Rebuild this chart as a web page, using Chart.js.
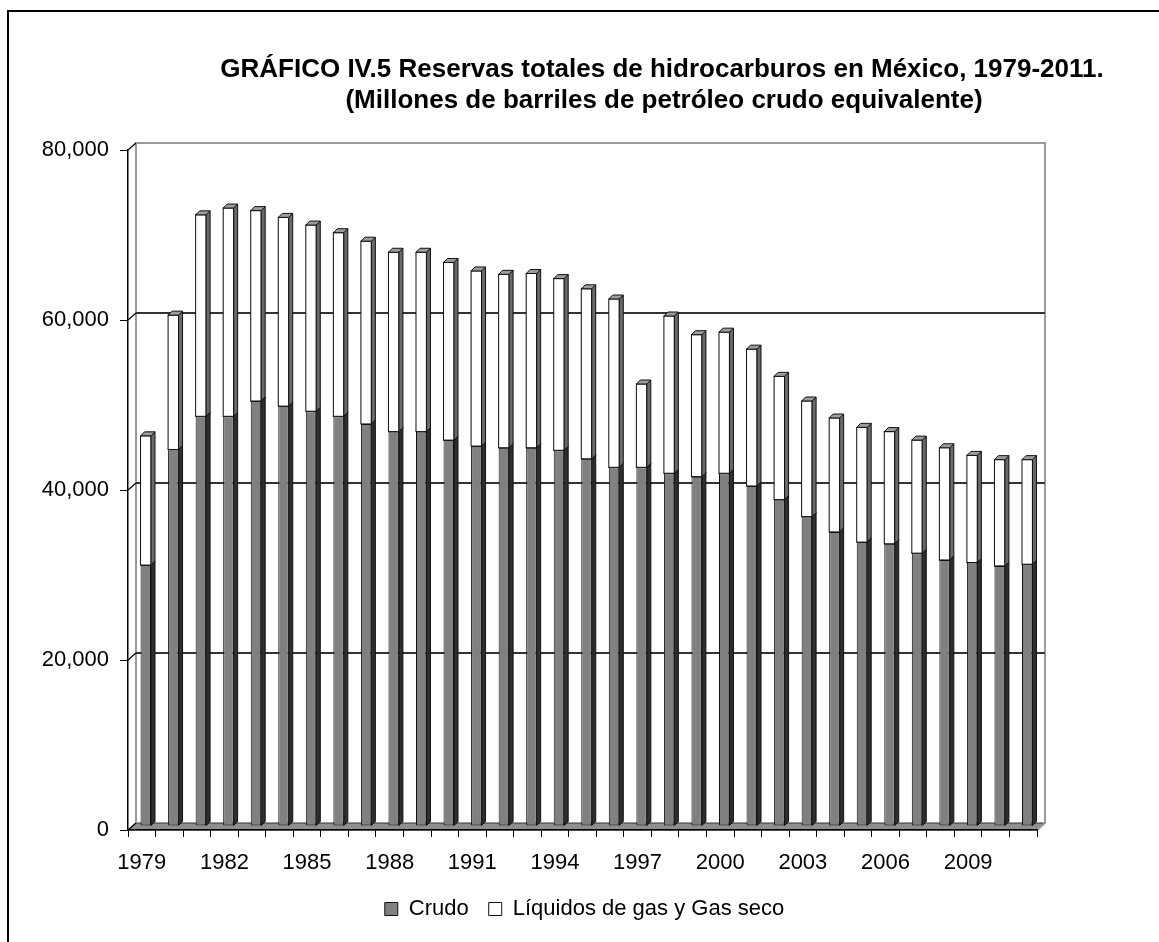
<!DOCTYPE html>
<html lang="es">
<head>
<meta charset="utf-8">
<title>Reservas totales de hidrocarburos en México, 1979-2011</title>
<script src="https://cdn.jsdelivr.net/npm/chart.js@4.4.1/dist/chart.umd.min.js"></script>
<style>
  html, body { margin: 0; padding: 0; background: #fff; }
  canvas { display: block; }
</style>
</head>
<body>
<canvas id="reservas" width="1159" height="942"></canvas>
<script>
const years = ['1979', '1980', '1981', '1982', '1983', '1984', '1985', '1986', '1987', '1988', '1989',
  '1990', '1991', '1992', '1993', '1994', '1995', '1996', '1997', '1998', '1999', '2000',
  '2001', '2002', '2003', '2004', '2005', '2006', '2007', '2008', '2009', '2010', '2011'];

// millones de barriles de petróleo crudo equivalente
const crudo = [30700, 44300, 48200, 48200, 50000, 49400, 48800, 48200, 47300, 46400, 46400,
  45400, 44700, 44500, 44500, 44200, 43200, 42200, 42200, 41500, 41100, 41500,
  40000, 38400, 36400, 34600, 33400, 33200, 32100, 31300, 31000, 30600, 30800];
const liquidos = [15200, 15800, 23700, 24500, 22400, 22200, 21900, 21600, 21500, 21100, 21100,
  20900, 20600, 20400, 20500, 20200, 20000, 19800, 9800, 18500, 16700, 16600,
  16100, 14500, 13600, 13400, 13500, 13200, 13300, 13200, 12600, 12500, 12300];

const yTicks = [0, 20000, 40000, 60000, 80000];
const shownYears = ['1979', '1982', '1985', '1988', '1991', '1994', '1997', '2000', '2003', '2006', '2009'];

const titleLines = [
  'GRÁFICO IV.5 Reservas totales de hidrocarburos en México, 1979-2011.',
  '(Millones de barriles de petróleo crudo equivalente)'
];

const FONT = "'Liberation Sans', Arial, sans-serif";
const WALL = { dx: 8, dy: -7 };           // offset of the back wall
const BAR = { dx: 4, dy: -4, depth: 4 };  // columns sit halfway into the box

const faceColors = [
  { side: '#2e2e2e', top: '#5a5a5a' },
  { side: '#6a6a6a', top: '#9c9c9c' }
];

function poly(ctx, pts, fill) {
  ctx.beginPath();
  ctx.moveTo(pts[0][0], pts[0][1]);
  for (let i = 1; i < pts.length; i++) ctx.lineTo(pts[i][0], pts[i][1]);
  ctx.closePath();
  ctx.fillStyle = fill;
  ctx.fill();
  ctx.stroke();
}

const box3d = {
  id: 'box3d',
  beforeDraw(chart) {
    const { ctx, chartArea: a } = chart;
    const ys = chart.scales.y;
    ctx.save();
    ctx.fillStyle = '#fff';
    ctx.fillRect(0, 0, chart.width, chart.height);

    // outer frame
    ctx.strokeStyle = '#000';
    ctx.lineWidth = 2;
    ctx.strokeRect(8, 11, 1300, 1300);

    // floor
    ctx.lineWidth = 1;
    ctx.strokeStyle = '#333';
    const y0 = ys.getPixelForValue(0);
    poly(ctx, [[a.left, y0], [a.right, y0], [a.right + WALL.dx, y0 + WALL.dy], [a.left + WALL.dx, y0 + WALL.dy]], '#8f8f8f');

    // back wall edges
    const yTop = ys.getPixelForValue(80000);
    ctx.strokeStyle = '#9a9a9a';
    ctx.lineWidth = 2;
    ctx.beginPath();
    ctx.moveTo(a.left + WALL.dx, y0 + WALL.dy);
    ctx.lineTo(a.left + WALL.dx, yTop + WALL.dy);
    ctx.lineTo(a.right + WALL.dx, yTop + WALL.dy);
    ctx.lineTo(a.right + WALL.dx, y0 + WALL.dy);
    ctx.lineTo(a.right, y0);
    ctx.stroke();

    // gridlines on the back wall, joined to the axis across the side wall
    yTicks.forEach(v => {
      const yy = ys.getPixelForValue(v);
      ctx.strokeStyle = '#000';
      ctx.lineWidth = 1.2;
      ctx.beginPath();
      ctx.moveTo(a.left, yy);
      ctx.lineTo(a.left + WALL.dx, yy + WALL.dy);
      ctx.stroke();
      if (v > 0 && v < 80000) {
        ctx.strokeStyle = '#333';
        ctx.lineWidth = 2;
        ctx.beginPath();
        ctx.moveTo(a.left + WALL.dx, yy + WALL.dy);
        ctx.lineTo(a.right + WALL.dx, yy + WALL.dy);
        ctx.stroke();
      }
    });
    ctx.restore();
  },
  beforeDatasetsDraw(chart) {
    chart.ctx.save();
    chart.ctx.translate(BAR.dx, BAR.dy);
  },
  afterDatasetsDraw(chart) {
    const ctx = chart.ctx;
    const d = BAR.depth;
    const metas = [chart.getDatasetMeta(0), chart.getDatasetMeta(1)];
    ctx.lineWidth = 1;
    ctx.strokeStyle = '#111';
    for (let i = 0; i < years.length; i++) {
      metas.forEach((meta, k) => {
        const el = meta.data[i];
        const { x, y, base, width } = el.getProps(['x', 'y', 'base', 'width'], true);
        const l = x - width / 2, r = x + width / 2;
        const t = Math.min(y, base), b = Math.max(y, base);
        if (k === 1) {
          ctx.fillStyle = chart.data.datasets[k].backgroundColor;
          ctx.fillRect(l, t, width, b - t);
          ctx.strokeRect(l, t, width, b - t);
        }
        poly(ctx, [[r, t], [r + d, t - d], [r + d, b - d], [r, b]], faceColors[k].side);
        poly(ctx, [[l, t], [l + d, t - d], [r + d, t - d], [r, t]], faceColors[k].top);
      });
    }
    ctx.restore();
  },
  afterDraw(chart) {
    const ctx = chart.ctx;
    ctx.save();
    ctx.fillStyle = '#000';
    ctx.font = 'bold 26px ' + FONT;
    ctx.textAlign = 'center';
    ctx.textBaseline = 'middle';
    ctx.fillText(titleLines[0], 662, 70);
    ctx.fillText(titleLines[1], 664, 101);
    ctx.restore();
  }
};

new Chart(document.getElementById('reservas'), {
  type: 'bar',
  data: {
    labels: years,
    datasets: [{
      label: 'Crudo',
      data: crudo,
      backgroundColor: '#808080',
      borderColor: '#111',
      borderWidth: 1,
      borderSkipped: false
    }, {
      label: 'Líquidos de gas y Gas seco',
      data: liquidos,
      backgroundColor: '#ffffff',
      borderColor: '#111',
      borderWidth: 1,
      borderSkipped: false
    }]
  },
  options: {
    responsive: false,
    animation: false,
    categoryPercentage: 1,
    barPercentage: 0.38,
    layout: { padding: { left: 10, right: 0, top: 150, bottom: 12 } },
    plugins: {
      title: { display: false },
      tooltip: { enabled: false },
      legend: {
        position: 'bottom',
        labels: {
          font: { family: FONT, size: 22 },
          color: '#000',
          boxWidth: 13,
          boxHeight: 13,
          padding: 20
        }
      }
    },
    scales: {
      x: {
        stacked: true,
        offset: true,
        grid: { drawOnChartArea: false, tickLength: 7, color: '#000', offset: true },
        border: { color: '#000', width: 1.5 },
        ticks: {
          autoSkip: false,
          maxRotation: 0,
          padding: 13,
          color: '#000',
          font: { family: FONT, size: 22 },
          callback(v, i) { return shownYears.includes(years[i]) ? years[i] : ''; }
        },
        afterFit(s) { s.height = 48; }
      },
      y: {
        stacked: true,
        min: 0,
        max: 80000,
        grid: { drawOnChartArea: false, tickLength: 8, color: '#000' },
        border: { color: '#000', width: 1.5 },
        ticks: {
          padding: 11,
          color: '#000',
          font: { family: FONT, size: 22 },
          callback: v => v.toLocaleString('en-US')
        },
        afterBuildTicks(s) { s.ticks = yTicks.map(v => ({ value: v })); },
        afterFit(s) { s.width = 118; }
      },
      yRight: {
        type: 'linear',
        position: 'right',
        grid: { display: false },
        border: { display: false },
        ticks: { display: false },
        afterFit(s) { s.width = 122; }
      }
    }
  },
  plugins: [box3d]
});
</script>
</body>
</html>
